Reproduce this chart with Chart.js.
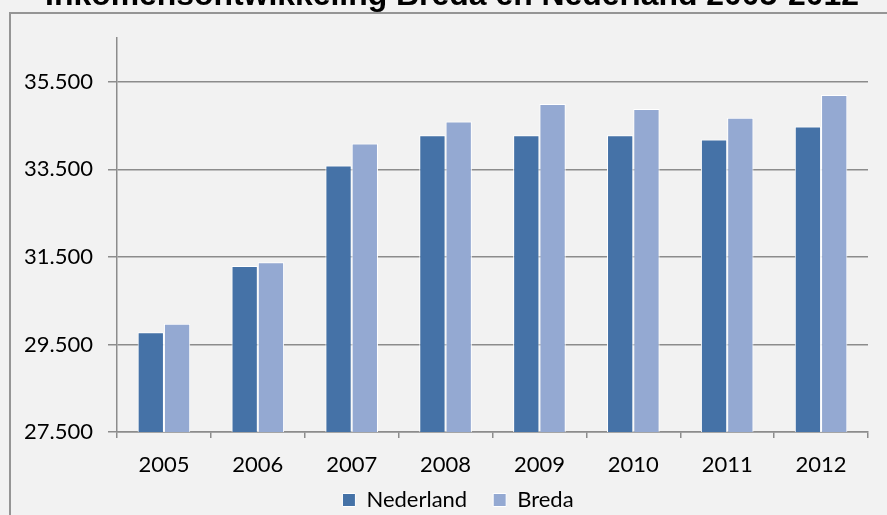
<!DOCTYPE html>
<html>
<head>
<meta charset="utf-8">
<script src="https://cdn.jsdelivr.net/npm/chart.js@4/dist/chart.umd.min.js"></script>
<style>
  html, body { margin: 0; padding: 0; background: #f2f2f2; }
  #wrap { position: relative; width: 887px; height: 515px; overflow: hidden; background: #f2f2f2; }
  #frame { position: absolute; left: 9px; top: 12px; width: 950px; height: 600px; border: 2px solid #959595; box-sizing: border-box; }
  canvas { position: absolute; left: 0; top: 0; }
</style>
</head>
<body>
<div id="wrap">
  <div id="frame"></div>
  <canvas id="c" width="887" height="515"></canvas>
</div>
<script>
const titleText = "Inkomensontwikkeling Breda en Nederland 2005-2012";
const years = ["2005", "2006", "2007", "2008", "2009", "2010", "2011", "2012"];
const nederland = [29780, 31290, 33590, 34280, 34280, 34280, 34180, 34480];
const breda = [29970, 31380, 34090, 34590, 34990, 34880, 34680, 35200];
const yTicks = [27500, 29500, 31500, 33500, 35500];
const yMin = 27500;
const yMax = 36500;

const gridGray = "#8c8c8c";
const labelFont = { family: "Lato", size: 22 };

function fmtNL(v) {
  return String(Math.round(v)).replace(/\B(?=(\d{3})+(?!\d))/g, ".");
}

const titlePlugin = {
  id: "cutTitle",
  afterDraw(chart) {
    const ctx = chart.ctx;
    ctx.save();
    ctx.font = 'bold 24px "Liberation Sans", Arial, sans-serif';
    const w24 = ctx.measureText(titleText).width;
    const size = 24 * 814 / w24;
    ctx.font = 'bold ' + size.toFixed(2) + 'px "Liberation Sans", Arial, sans-serif';
    ctx.fillStyle = "#000000";
    ctx.textAlign = "center";
    ctx.textBaseline = "alphabetic";
    ctx.fillText(titleText, 452, 5);
    ctx.restore();
  }
};

const legendShift = {
  id: "legendShift",
  afterLayout(chart) {
    const lg = chart.legend;
    if (lg) { lg.top -= 15; lg.bottom -= 15; lg.left += 24; lg.right += 24; }
  }
};

new Chart(document.getElementById("c"), {
  type: "bar",
  data: {
    labels: years,
    datasets: [
      { label: "Nederland", data: nederland, backgroundColor: "#4572a7", borderColor: "#ffffff", borderWidth: 1 },
      { label: "Breda", data: breda, backgroundColor: "#94a9d2", borderColor: "#ffffff", borderWidth: 1 }
    ]
  },
  options: {
    responsive: false,
    animation: false,
    layout: { padding: { left: 0, right: 19, top: 38, bottom: -21 } },
    datasets: { bar: { categoryPercentage: 0.56, barPercentage: 1.0 } },
    plugins: {
      title: { display: false },
      tooltip: { enabled: false },
      legend: {
        position: "bottom",
        labels: {
          font: labelFont,
          color: "#000000",
          boxWidth: 13,
          boxHeight: 13,
          padding: 26
        }
      }
    },
    scales: {
      x: {
        offset: true,
        grid: { display: true, drawOnChartArea: false, drawTicks: true, tickLength: 6, color: gridGray, lineWidth: 1.5, offset: true },
        border: { display: true, color: gridGray, width: 1.5 },
        ticks: { font: labelFont, color: "#000000", padding: 14, maxRotation: 0 },
        afterFit(scale) { scale.height = 46; }
      },
      y: {
        min: yMin,
        max: yMax,
        ticks: { stepSize: 2000, font: labelFont, color: "#000000", padding: 15, callback: (v) => fmtNL(v) },
        afterBuildTicks(scale) { scale.ticks = yTicks.map(v => ({ value: v })); },
        grid: { color: gridGray, lineWidth: 1.5, tickLength: 9, drawTicks: true },
        border: { display: true, color: gridGray, width: 1.5 },
        afterFit(scale) { scale.width = 117; }
      }
    }
  },
  plugins: [titlePlugin, legendShift]
});
</script>
</body>
</html>
